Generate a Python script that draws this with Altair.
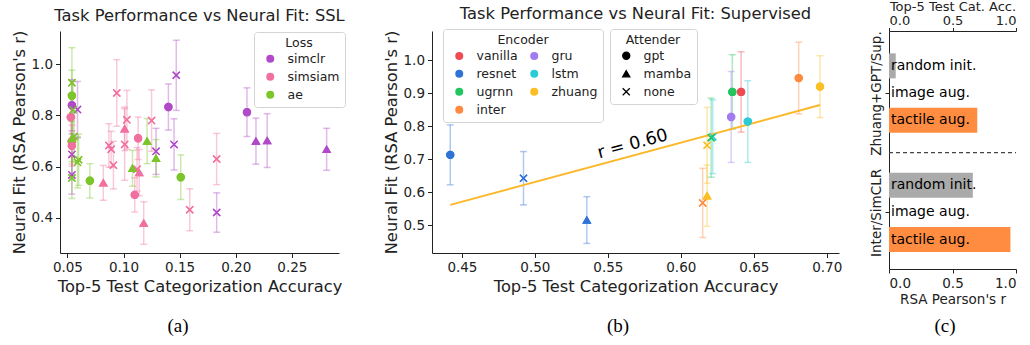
import altair as alt
import numpy as np
import pandas as pd

FONT = "DejaVu Sans"
SERIF = "Liberation Serif"
INK = "#222222"
X_PATH = "M-1,-1L1,1M1,-1L-1,1"

# ---------------- (a) self-supervised models ----------------
ssl_loss = (["simclr"] * 13) + (["simsiam"] * 19) + (["ae"] * 13)
ssl_attender = [
    # simclr
    "gpt", "gpt", "gpt", "mamba", "mamba", "mamba",
    "none", "none", "none", "none", "none", "none", "none",
    # simsiam
    "gpt", "gpt", "gpt", "gpt", "gpt", "mamba", "mamba", "mamba", "mamba",
    "none", "none", "none", "none", "none", "none", "none", "none", "none", "none",
    # ae
    "gpt", "gpt", "gpt", "mamba", "mamba", "mamba", "mamba",
    "none", "none", "none", "none", "none", "none",
]
ssl_acc = [
    0.054, 0.140, 0.210, 0.218, 0.228, 0.281,
    0.147, 0.145, 0.129, 0.183, 0.054, 0.054, 0.059,
    0.053, 0.054, 0.054, 0.113, 0.110, 0.082, 0.101, 0.114, 0.118,
    0.094, 0.103, 0.101, 0.087, 0.089, 0.091, 0.125, 0.112, 0.183, 0.159,
    0.054, 0.070, 0.151, 0.121, 0.129, 0.108, 0.054,
    0.054, 0.055, 0.060, 0.059, 0.054, 0.056,
]
ssl_fit = [
    0.840, 0.833, 0.813, 0.700, 0.702, 0.668,
    0.957, 0.687, 0.660, 0.421, 0.568, 0.648, 0.823,
    0.793, 0.700, 0.682, 0.711, 0.490, 0.537, 0.748, 0.577, 0.380,
    0.888, 0.783, 0.687, 0.683, 0.668, 0.606, 0.780, 0.590, 0.630, 0.432,
    0.877, 0.545, 0.559, 0.700, 0.633, 0.594, 0.710,
    0.928, 0.822, 0.627, 0.617, 0.556, 0.718,
]
ssl_err = [
    0.100, 0.090, 0.095, 0.090, 0.105, 0.082,
    0.137, 0.100, 0.090, 0.077, 0.075, 0.080, 0.110,
    0.090, 0.090, 0.080, 0.083, 0.067, 0.068, 0.085, 0.090, 0.083,
    0.130, 0.115, 0.140, 0.085, 0.070, 0.093, 0.120, 0.085, 0.100, 0.082,
    0.100, 0.067, 0.087, 0.088, 0.073, 0.070, 0.090,
    0.137, 0.110, 0.100, 0.100, 0.080, 0.100,
]
loss_names = ["simclr", "simsiam", "ae"]
loss_colors = ["#b04ac8", "#f0709f", "#7cc52a"]

# ---------------- (b) supervised models ----------------
sup_encoder = ["resnet", "resnet", "resnet", "inter", "zhuang", "ugrnn", "vanilla",
               "gru", "lstm", "lstm", "ugrnn", "zhuang", "zhuang", "inter"]
sup_attender = ["gpt", "none", "mamba", "gpt", "gpt", "gpt", "gpt",
                "gpt", "gpt", "none", "none", "none", "mamba", "none"]
sup_acc = [0.4420, 0.4922, 0.5356, 0.6808, 0.6954, 0.6353, 0.6413,
           0.6345, 0.6459, 0.6219, 0.6208, 0.6180, 0.6180, 0.6150]
sup_fit = [0.713, 0.642, 0.515, 0.946, 0.920, 0.904, 0.904,
           0.828, 0.814, 0.768, 0.765, 0.742, 0.589, 0.567]
sup_err = [0.091, 0.081, 0.071, 0.109, 0.094, 0.113, 0.122,
           0.138, 0.124, 0.112, 0.120, 0.115, 0.093, 0.105]
encoder_names = ["vanilla", "resnet", "ugrnn", "inter", "gru", "lstm", "zhuang"]
encoder_colors = ["#ef4b55", "#2f73d6", "#22c55e", "#fd8a3e", "#a27bf0", "#2bcbd6", "#fbbf24"]
attender_names = ["gpt", "mamba", "none"]
attender_shapes = ["circle", "triangle-up", X_PATH]

# ---------------- (c) augmentation comparison ----------------
aug_group = ["Zhuang+GPT/Sup."] * 3 + ["Inter/SimCLR"] * 3
aug_condition = ["random init.", "image aug.", "tactile aug."] * 2
aug_value = [0.053, None, 0.695, 0.660, None, 0.956]
aug_row = [0.0, 1.0, 2.0, 4.4, 5.4, 6.4]
separator_row = 3.2
group_ticks = [1.0, 5.4]

legend_style = dict(
    titleAnchor="middle", titleFontWeight="normal", titleFontSize=12.5,
    labelFontSize=12.5, titleColor=INK, labelColor=INK, fillColor="white",
    strokeColor="#d4d4d4", cornerRadius=3, padding=5, rowPadding=5,
    labelOffset=11, symbolOffset=5, titlePadding=3,
)


def scatter_layers(df, color_field, color_scale, color_legend, shape_legend,
                   xdom, ydom, xticks, yticks):
    x = alt.X("acc:Q", scale=alt.Scale(domain=xdom, nice=False, zero=False),
              axis=alt.Axis(values=xticks, format=".2f",
                            title="Top-5 Test Categorization Accuracy"))
    y = alt.Y("fit:Q", scale=alt.Scale(domain=ydom, nice=False, zero=False),
              axis=alt.Axis(values=yticks, format=".1f",
                            title="Neural Fit (RSA Pearson's r)"))
    base = alt.Chart(df).transform_calculate(
        lo="datum.fit - datum.err", hi="datum.fit + datum.err"
    )
    pts = base.mark_point(filled=True, opacity=1, size=50, strokeWidth=1.3).encode(
        x=x, y=y,
        color=alt.Color(f"{color_field}:N", scale=color_scale, legend=color_legend),
        stroke=alt.Stroke(f"{color_field}:N", scale=color_scale, legend=None),
        shape=alt.Shape("attender:N",
                        scale=alt.Scale(domain=attender_names, range=attender_shapes),
                        legend=shape_legend),
    )
    bars = base.mark_rule(strokeWidth=1.5, opacity=0.38).encode(
        x=x, y=alt.Y("lo:Q"), y2="hi:Q",
        color=alt.Color(f"{color_field}:N", scale=color_scale, legend=color_legend),
    )
    caps = base.transform_fold(["lo", "hi"], as_=["end", "yv"]).mark_tick(
        orient="horizontal", size=7, thickness=1.5, opacity=0.38
    ).encode(
        x=x, y=alt.Y("yv:Q"),
        color=alt.Color(f"{color_field}:N", scale=color_scale, legend=color_legend),
    )
    return bars, caps, pts


def panel_label(text, xpos, ypos):
    return alt.Chart(pd.DataFrame({"t": [text]})).mark_text(
        font=SERIF, fontSize=19, color="black").encode(
        text="t:N", x=alt.value(xpos), y=alt.value(ypos))


# ---- panel (a)
df_a = pd.DataFrame({"loss": ssl_loss, "attender": ssl_attender,
                     "acc": ssl_acc, "fit": ssl_fit, "err": ssl_err})
loss_scale = alt.Scale(domain=loss_names, range=loss_colors)
bars_a, caps_a, pts_a = scatter_layers(
    df_a, "loss", loss_scale,
    alt.Legend(title="Loss", orient="none", legendX=194, legendY=1,
               symbolType="circle", symbolSize=64, symbolStrokeWidth=0,
               symbolOpacity=1, **legend_style),
    None,
    [0.0434, 0.292], [0.263, 1.13], [0.05, 0.10, 0.15, 0.20, 0.25], [0.4, 0.6, 0.8, 1.0])
panel_a = alt.layer(pts_a, bars_a, caps_a, pts_a, panel_label("(a)", 118, 295)).properties(
    width=279, height=222, title="Task Performance vs Neural Fit: SSL")

# ---- panel (b)
df_b = pd.DataFrame({"encoder": sup_encoder, "attender": sup_attender,
                     "acc": sup_acc, "fit": sup_fit, "err": sup_err})
enc_scale = alt.Scale(domain=encoder_names, range=encoder_colors)
bars_b, caps_b, pts_b = scatter_layers(
    df_b, "encoder", enc_scale,
    alt.Legend(title="Encoder", orient="none", legendX=11, legendY=-2, columns=2,
               columnPadding=5, symbolType="circle", symbolSize=64, symbolStrokeWidth=0,
               symbolOpacity=1, **legend_style),
    alt.Legend(title="Attender", orient="none", legendX=178, legendY=-2,
               symbolFillColor="black", symbolStrokeColor="black",
               symbolStrokeWidth=1.3, symbolSize=50, **legend_style),
    [0.4295, 0.7084], [0.415, 1.089], [0.45, 0.50, 0.55, 0.60, 0.65, 0.70],
    [0.5, 0.6, 0.7, 0.8, 0.9, 1.0])

r_value = np.corrcoef(sup_acc, sup_fit)[0, 1]
fit_line = alt.Chart(df_b).transform_regression("acc", "fit").mark_line(
    color="#fbb829", strokeWidth=2).encode(x="acc:Q", y="fit:Q")
r_text = alt.Chart(pd.DataFrame({"acc": [0.567], "fit": [0.745],
                                 "t": [f"r = {r_value:.2f}"]})).mark_text(
    fontSize=17.5, angle=345, color="black", font=FONT).encode(
    x="acc:Q", y="fit:Q", text="t:N")
panel_b = alt.layer(pts_b, bars_b, caps_b, fit_line, pts_b, r_text,
                    panel_label("(b)", 186, 295)).properties(
    width=407, height=222, title="Task Performance vs Neural Fit: Supervised")

# ---- panel (c)
df_c = pd.DataFrame({"group": aug_group, "condition": aug_condition,
                     "value": aug_value, "row": aug_row})
y_c = alt.Y("row:Q", scale=alt.Scale(domain=[-1.1, 7.3], reverse=True, nice=False, zero=False),
            axis=alt.Axis(values=group_ticks, title=None,
                          labelExpr="datum.value < 3 ? 'Zhuang+GPT/Sup.' : 'Inter/SimCLR'",
                          labelAngle=270, labelAlign="center", labelBaseline="bottom",
                          labelFontSize=13.5, labelPadding=2, tickSize=4))
bar_c = alt.Chart(df_c).transform_filter("isValid(datum.value)").mark_bar(
    orient="horizontal", size=25).encode(
    x=alt.X("value:Q", scale=alt.Scale(domain=[0, 1], nice=False),
            axis=alt.Axis(values=[0, 0.5, 1.0], format=".1f", title="RSA Pearson's r",
                          titleFontSize=13.5, titlePadding=3, tickSize=4)),
    y=y_c,
    color=alt.Color("condition:N",
                    scale=alt.Scale(domain=["random init.", "tactile aug."],
                                    range=["#aaaaaa", "#ff8c40"]), legend=None),
)
sep_c = alt.Chart(pd.DataFrame({"lo": [0.0], "hi": [1.0], "row": [separator_row]})).mark_rule(
    strokeDash=[4, 3], color="#444444", strokeWidth=1.2).encode(
    x=alt.X("lo:Q", scale=alt.Scale(domain=[0, 1], nice=False),
            axis=alt.Axis(orient="top", values=[0, 0.5, 1.0], format=".1f",
                          title="Top-5 Test Cat. Acc.", titleFontSize=13,
                          labelFontSize=13, titlePadding=0.5, labelPadding=0.5,
                          tickSize=3.5)),
    x2="hi:Q", y=alt.Y("row:Q"))
text_c = alt.Chart(df_c).mark_text(align="left", baseline="middle", fontSize=14,
                                   color="black", font=FONT).encode(
    x=alt.value(2), y=alt.Y("row:Q"), text="condition:N")
panel_c = alt.layer(bar_c, sep_c, text_c, panel_label("(c)", 56, 295)).resolve_scale(
    x="independent").properties(width=127, height=238)

indep = dict(color="independent", stroke="independent", shape="independent")
left_pair = alt.hconcat(panel_a, panel_b, spacing=37).resolve_scale(**indep).resolve_legend(
    color="independent", shape="independent")
chart = alt.hconcat(left_pair, panel_c, spacing=26).resolve_scale(**indep).resolve_legend(
    color="independent", shape="independent").configure(
    font=FONT, padding={"left": 11, "top": 0, "right": 0, "bottom": 0}
).configure_view(stroke=None).configure_axis(
    labelFontSize=13.5, titleFontSize=16.3, labelColor=INK, titleColor=INK,
    domainColor=INK, tickColor=INK, tickSize=4.5, grid=False, titleFontWeight="normal",
    labelPadding=3, titlePadding=4, labelFont=FONT, titleFont=FONT,
).configure_title(fontSize=16.3, fontWeight="normal", color=INK, offset=6, font=FONT)

chart.save("out.html", embed_options={"renderer": "svg", "actions": False})
